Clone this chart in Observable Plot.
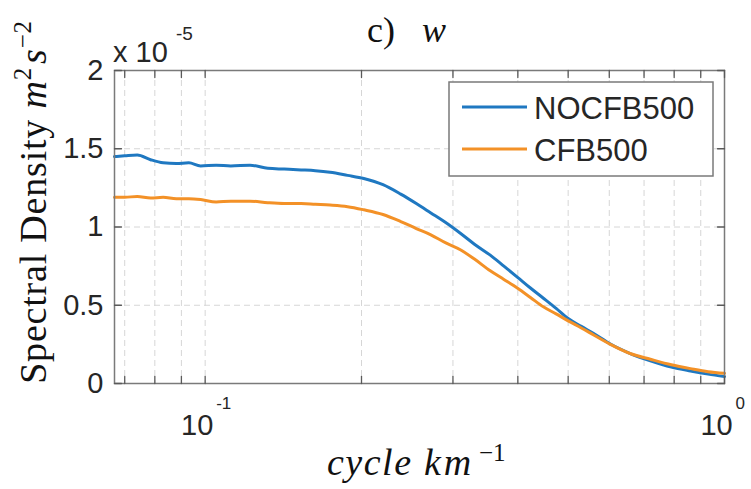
<!DOCTYPE html>
<html><head><meta charset="utf-8">
<script src="https://cdn.jsdelivr.net/npm/d3@7"></script>
<script src="https://cdn.jsdelivr.net/npm/@observablehq/plot@0.6"></script>
<style>html,body{margin:0;padding:0;background:#fff;} #chart{width:751px;height:489px;overflow:hidden;}</style>
</head><body><div id="chart"></div>
<script>
// frequency (cycle per km)
const freq = [0.0669,0.070,0.074,0.0785,0.083,0.088,0.093,0.098,0.105,0.112,0.122,0.132,0.142,0.153,0.163,0.174,0.188,0.202,0.220,0.238,0.255,0.272,0.290,0.310,0.330,0.354,0.376,0.399,0.423,0.448,0.474,0.500,0.530,0.560,0.603,0.660,0.720,0.790,0.860,0.930,1.0];
// spectral density, units of 1e-5 m^2 s^-2
const noCFB500 = [1.45,1.455,1.46,1.43,1.41,1.405,1.41,1.39,1.395,1.39,1.395,1.375,1.37,1.365,1.36,1.35,1.33,1.31,1.27,1.21,1.15,1.09,1.03,0.96,0.89,0.82,0.75,0.68,0.61,0.545,0.48,0.415,0.365,0.32,0.252,0.19,0.145,0.105,0.08,0.06,0.045];
const cfb500   = [1.19,1.19,1.195,1.185,1.19,1.18,1.18,1.175,1.16,1.165,1.165,1.155,1.15,1.15,1.145,1.14,1.13,1.11,1.08,1.035,0.99,0.95,0.90,0.855,0.795,0.72,0.665,0.61,0.55,0.49,0.445,0.40,0.355,0.31,0.25,0.19,0.155,0.12,0.095,0.075,0.065];
const series = ["NOCFB500","CFB500"];
const colors = ["#1f78c1","#f39127"];
const yTicks = [0,0.5,1,1.5,2];
const xMajor = [0.1,1];
const xMajorExp = ["-1","0"];
const xMinor = [0.07,0.08,0.09,0.2,0.3,0.4,0.5,0.6,0.7,0.8,0.9];
const yExponent = "-5";
const title = ["c)","w"];
const yLabel = "Spectral Density";
const xLabel = ["cycle","km","\u22121"];

const data = [];
freq.forEach((f,i)=>{
  data.push({f, v:noCFB500[i], s:series[0]});
  data.push({f, v:cfb500[i], s:series[1]});
});
const xAll = [...xMinor, ...xMajor].sort((a,b)=>a-b);
const tickShape = {draw(ctx,l){ctx.moveTo(0,0); ctx.lineTo(0,-l);}};
const grid = {stroke:"#d6d6d6", strokeOpacity:1, strokeDasharray:"6,4", strokeWidth:1};
const tk = {length:7, shape:tickShape, anchor:"start", stroke:"#5a5a5a", strokeWidth:1.3};

const svg = Plot.plot({
  width:751, height:489, marginLeft:114, marginRight:27, marginTop:70, marginBottom:106,
  style:{fontFamily:"'Liberation Sans', Arial, sans-serif", fontSize:"29px", color:"#262626", background:"#fff"},
  x:{type:"log", domain:[0.0669,1]},
  y:{domain:[0,2]},
  color:{domain:series, range:colors},
  marks:[
    Plot.gridX(xAll, grid),
    Plot.gridY(yTicks.slice(1,-1), grid),
    Plot.line(data,{x:"f", y:"v", stroke:"s", z:"s", strokeWidth:3, curve:"monotone-x"}),
    Plot.frame({stroke:"#7a7a7a", strokeWidth:1.5}),
    Plot.vector(xAll,{x:d=>d, frameAnchor:"bottom", rotate:0, ...tk}),
    Plot.vector(xAll,{x:d=>d, frameAnchor:"top", rotate:180, ...tk}),
    Plot.vector(yTicks,{y:d=>d, frameAnchor:"left", rotate:90, ...tk}),
    Plot.vector(yTicks,{y:d=>d, frameAnchor:"right", rotate:-90, ...tk}),
    Plot.axisY({ticks:yTicks, tickSize:0, tickPadding:11, label:null, tickFormat:d=>String(d)}),
    Plot.axisX({ticks:xMajor, tickSize:0, tickPadding:31, label:null, tickFormat:()=>"10", dx:-8}),
    Plot.text(xMajor,{x:d=>d, text:(d,i)=>xMajorExp[i], frameAnchor:"bottom", dy:25, dx:11, textAnchor:"start", fontSize:17})
  ]
});
document.getElementById("chart").appendChild(svg);

const s = d3.select(svg);
const serif = "'Liberation Serif', 'Times New Roman', serif";
const sans = "'Liberation Sans', Arial, sans-serif";
// exponent label
s.append("text").attr("text-anchor","start").attr("x",113).attr("y",62).attr("font-family",sans).attr("font-size",29).attr("fill","#262626").text("x 10");
s.append("text").attr("text-anchor","start").attr("x",176).attr("y",40).attr("font-family",sans).attr("font-size",19).attr("fill","#262626").text(yExponent);
// title
const t = s.append("text").attr("text-anchor","start").attr("y",42).attr("font-family",serif).attr("font-size",36).attr("fill","#111");
t.append("tspan").attr("x",367).text(title[0]);
t.append("tspan").attr("x",422).attr("font-style","italic").text(title[1]);
// y label
const yl = s.append("text").attr("transform","translate(46,202) rotate(-90)").attr("text-anchor","middle").attr("font-family",serif).attr("font-size",38).attr("letter-spacing","0.8px").attr("fill","#111");
yl.append("tspan").text(yLabel+" ");
yl.append("tspan").attr("font-style","italic").text("m");
yl.append("tspan").attr("font-size",25).attr("dy",-15).text("2");
yl.append("tspan").attr("font-style","italic").attr("dy",15).attr("dx",3).text("s");
yl.append("tspan").attr("font-size",25).attr("dy",-15).text("\u22122");
// x label
const xl = s.append("text").attr("text-anchor","start").attr("y",475).attr("font-family",serif).attr("font-size",38).attr("letter-spacing","1.5px").attr("fill","#111");
xl.append("tspan").attr("x",327).attr("font-style","italic").text(xLabel[0]);
xl.append("tspan").attr("x",424).attr("font-style","italic").attr("letter-spacing","3px").text(xLabel[1]);
xl.append("tspan").attr("x",479).attr("y",461).attr("font-size",25).attr("letter-spacing","0px").text(xLabel[2]);
// legend
const lg = s.append("g");
lg.append("rect").attr("x",449).attr("y",82).attr("width",264).attr("height",94).attr("fill","#fff").attr("stroke","#7a7a7a").attr("stroke-width",1.5);
series.forEach((name,i)=>{
  const cy = 107 + i*42;
  lg.append("line").attr("x1",462).attr("x2",527).attr("y1",cy).attr("y2",cy).attr("stroke",colors[i]).attr("stroke-width",3);
  lg.append("text").attr("text-anchor","start").attr("x",534).attr("y",cy+12).attr("font-family",sans).attr("font-size",31).attr("fill","#262626").text(name);
});
</script>
</body></html>
